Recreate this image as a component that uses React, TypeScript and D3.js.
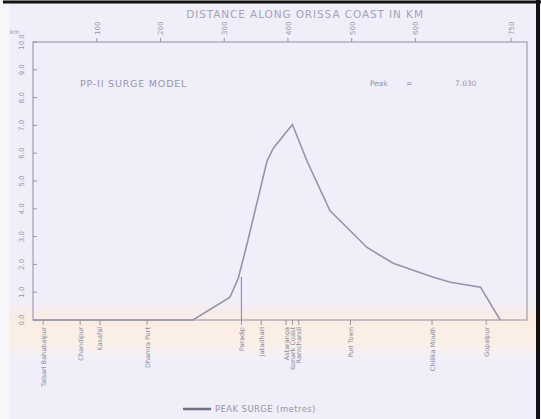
import * as d3 from "d3";

// distance along coast (km) and peak surge (m)
const distanceKm = [0, 251, 309, 322, 336, 367, 377, 407, 430, 466, 493, 524, 565, 628, 655, 702, 733];
const surgeM = [0, 0, 0.82, 1.5, 2.75, 5.71, 6.18, 7.03, 5.71, 3.93, 3.32, 2.61, 2.04, 1.54, 1.36, 1.18, 0];

const topTicks = [100, 200, 300, 400, 500, 600, 750];
const yTicks = [0, 1, 2, 3, 4, 5, 6, 7, 8, 9, 10];

const stationKm = [16, 74, 105, 179, 327, 358, 397, 407, 417, 498, 626, 711];
const stationNames = [
  "Talsari Bahabalpur",
  "Chandipur",
  "Kasafal",
  "Dhamra Port",
  "Paradip",
  "Jatadhari",
  "Astaranga",
  "Konark Coast",
  "Ramchandi",
  "Puri Town",
  "Chilika Mouth",
  "Gopalpur",
];

const W = 541;
const H = 419;
const M = { left: 33, right: 527, top: 42, bottom: 320 };
const INK = "#9696ab";
const FONT = "'DejaVu Sans', sans-serif";

export default function App() {
  const x = d3.scaleLinear().domain([0, 775]).range([M.left, M.right]);
  const y = d3.scaleLinear().domain([0, 10]).range([M.bottom, M.top]);

  const pts = distanceKm.map((d, i) => [d, surgeM[i]] as [number, number]);
  const line = d3
    .line<[number, number]>()
    .x((d) => x(d[0]))
    .y((d) => y(d[1]));

  const peakIdx = surgeM.indexOf(d3.max(surgeM) ?? 0);

  return (
    <svg
      width={W}
      height={H}
      style={{ position: "absolute", left: 0, top: 0, fontFamily: FONT }}
    >
      <defs>
        <linearGradient id="band" x1="0" y1="0" x2="0" y2="1">
          <stop offset="0" stopColor="#f1eefa" />
          <stop offset="0.3" stopColor="#fbece4" />
          <stop offset="0.7" stopColor="#fbf0e6" />
          <stop offset="1" stopColor="#f1effa" />
        </linearGradient>
      </defs>
      {/* paper */}
      <rect x={0} y={0} width={W} height={H} fill="#efeef9" />
      <rect x={0} y={300} width={W} height={60} fill="url(#band)" />
      <rect x={0} y={0} width={9} height={H} fill="#f7f6fb" />

      {/* outer frame of the scan */}
      <line x1={3} x2={W} y1={2} y2={2} stroke="#111" strokeWidth={3} />
      <line x1={538} x2={538} y1={0} y2={H} stroke="#111" strokeWidth={4} />

      {/* top title */}
      <text x={305} y={18} textAnchor="middle" fontSize={10.5} fill="#a4a4b8" letterSpacing={0.9}>
        DISTANCE ALONG ORISSA COAST IN KM
      </text>
      <text x={10} y={34} fontSize={6} fill={INK}>km</text>

      {/* plot frame */}
      <rect
        x={M.left}
        y={M.top}
        width={M.right - M.left}
        height={M.bottom - M.top}
        fill="none"
        stroke="#a5a5b8"
        strokeWidth={1.3}
      />

      {/* top axis ticks */}
      {topTicks.map((t) => (
        <g key={t}>
          <line x1={x(t)} x2={x(t)} y1={M.top} y2={M.top - 4} stroke={INK} />
          <text
            transform={`translate(${x(t) + 3},${M.top - 7}) rotate(-90)`}
            fontSize={7}
            fill={INK}
          >
            {t}
          </text>
        </g>
      ))}

      {/* left axis */}
      {yTicks.map((t) => (
        <g key={t}>
          <line x1={M.left} x2={M.left + 4} y1={y(t)} y2={y(t)} stroke={INK} />
          <text
            transform={`translate(${M.left - 9},${y(t)}) rotate(-90)`}
            textAnchor="middle"
            fontSize={7}
            fill={INK}
          >
            {t.toFixed(1)}
          </text>
        </g>
      ))}

      {/* annotations */}
      <text x={80} y={87} fontSize={9.5} fill={INK} letterSpacing={0.8}>
        PP-II SURGE MODEL
      </text>
      <text x={370} y={86} fontSize={7.5} fill={INK}>Peak</text>
      <text x={406} y={86} fontSize={7.5} fill={INK}>=</text>
      <text x={455} y={86} fontSize={7.5} fill={INK}>
        {surgeM[peakIdx].toFixed(3)}
      </text>

      {/* landfall marker */}
      <line x1={x(327)} x2={x(327)} y1={y(1.55)} y2={M.bottom} stroke={INK} strokeWidth={1.2} />

      {/* surge envelope */}
      <path d={line(pts) ?? ""} fill="none" stroke="#9494aa" strokeWidth={1.6} />

      {/* coastal stations */}
      {stationKm.map((k, i) => (
        <g key={stationNames[i]}>
          <line x1={x(k)} x2={x(k)} y1={M.bottom} y2={M.bottom + 5} stroke={INK} />
          <text
            transform={`translate(${x(k) + 2.5},${M.bottom + 7}) rotate(-90)`}
            textAnchor="end"
            fontSize={6.5}
            fill="#8a8aa0"
          >
            {stationNames[i]}
          </text>
        </g>
      ))}

      {/* legend */}
      <line x1={183} x2={211} y1={409} y2={409} stroke="#6f6f86" strokeWidth={2.5} />
      <text x={215} y={412} fontSize={8.5} fill={INK} letterSpacing={0.4}>
        PEAK SURGE (metres)
      </text>
    </svg>
  );
}
